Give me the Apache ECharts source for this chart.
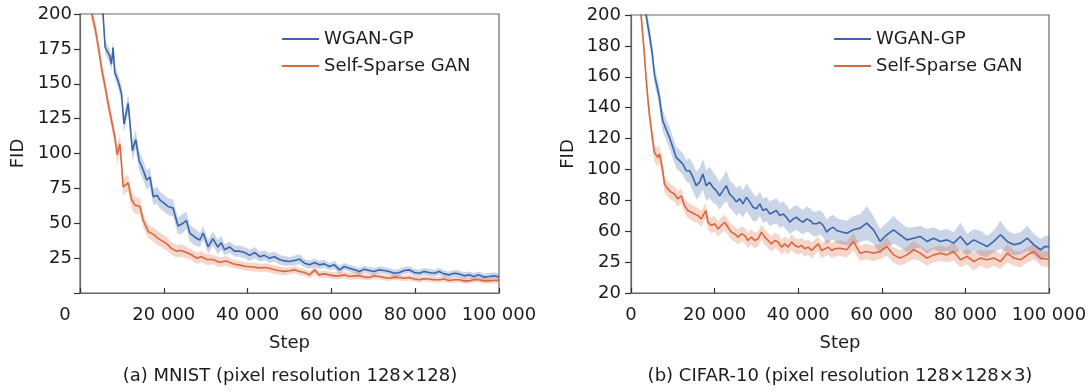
<!DOCTYPE html>
<html>
<head>
<meta charset="utf-8">
<script src="https://cdn.jsdelivr.net/npm/echarts@6/dist/echarts.min.js"></script>
<style>html,body{margin:0;padding:0;background:#fff}#c{width:1091px;height:392px}</style>
</head>
<body>
<div id="c"></div>
<script>
// ---------- DATA (steps in thousands, FID values) ----------
const seriesNames = ['WGAN-GP', 'Self-Sparse GAN'];
const mnistYTickLabels = ['', '25', '50', '75', '100', '125', '150', '175', '200'];
const cifarYTickLabels = ['20', '25', '60', '80', '100', '120', '140', '160', '180', '200'];
const captions = ['(a) MNIST (pixel resolution 128×128)', '(b) CIFAR-10 (pixel resolution 128×128×3)'];

// MNIST
const mnistWganHeadSteps = [3.5,5.5,6.0,7.1,7.5,7.9,8.3,9.1,9.9,10.5,11.5,12.5,13.3,14.1,15.1,15.9,16.7,17.5,18.4,19.0,20.2,21.0,22.2,23.4,24.6,25.4,26.2,27.4,28.6,29.4,30.6,31.7,32.9,33.7,34.5,35.7,36.9,38.1,39.3,40.5,41.7,42.9,44.0,45.2,46.4,47.6,48.8];
const mnistWganHeadFid = [240,200,176,170,164,176,158,152,143,121,136,102,110,95,88,81,83,69,70,67,64,62,61,48,50,52,43,40,38,43,33,39,33,36,31,33,30,30,29,27,29,26,27,25,26,24,23];
const mnistWganHeadSpread = [6,6,5,5,5,6,5,5,6,6,7,7,7,7,7,7,7,6,6,6,6,6,6,6,7,6,6,6,5,5,5,5,5,5,4,4,4,4,4,4,4,3.5,3.5,3.5,3.5,3.5,3.5];
const mnistSspHeadSteps = [1.5,2.8,3.6,4.4,5.2,6.0,6.7,7.5,8.3,8.9,9.5,9.9,10.3,11.5,12.3,13.1,14.3,15.1,16.3,17.5,18.7,19.8,20.8,21.8,23.0,24.2,25.4,26.6,27.8,29.0,30.2,31.7,33.3,34.9,36.5,38.1,39.7,41.3,42.9,44.4,46.0,47.6,48.8];
const mnistSspHeadFid = [240,200,190,176,160,148,136,124,112,99,107,93,76,79,67,63,62,52,44,42,39,37,35,32,30,30.5,29,27.4,25,26,24,24,22,23,21,20,19,18.6,18,18.3,17,16,15.5];
const mnistSspHeadSpread = [6,6,6,6,6,6,6,6,6,7,7,7,6,6,6,6,6,5,5,5,5,5,5,4.5,4.5,4.5,4,4,4,4,4,3.5,3.5,3.5,3,3,3,3,3,3,3,3,3];
const mnistTailSteps = [50,51.2,52.4,53.6,54.8,56.0,57.1,58.3,59.5,60.7,61.9,63.1,64.3,65.5,66.7,67.9,69.0,70.2,71.4,72.6,73.8,75.0,76.2,77.4,78.6,79.8,81.0,82.1,83.3,84.5,85.7,86.9,88.1,89.3,90.5,91.7,92.9,94.0,95.2,96.4,97.6,98.8,100];
const mnistWganTailFid = [22.6,23.3,24.2,21.4,20.2,21.8,20.2,20.9,19,20.2,16.6,19,17.8,16.6,15.4,17.1,16.1,15.4,16.6,16.1,15.4,14.2,14.7,16.1,16.6,14.7,14.2,15.4,14.7,14.2,15.4,13.7,13,14.2,13.7,12.3,13,11.8,13,11.4,11.8,12.3,11.4];
const mnistWganTailSpread = [3,3.5,3.5,3,3,3,3,3,2.5,3,3,2.5,2.5,2.5,2.5,2.5,2.5,2.5,2.5,2.5,2.5,2.5,2.5,2.5,2.5,2.5,2.5,2.5,2.5,2.5,2.5,2.5,2.5,2.5,2.5,2.5,2.5,2.5,2.5,2.5,2.5,2.5,2.5];
const mnistSspTailFid = [15.9,16.6,15.4,14.7,13,16.6,13,13.7,13,12.3,12.3,13,11.8,12.3,12.3,11.4,11.1,12.3,11.8,11.1,10.6,11.4,11.1,10.6,11.1,10,9.5,10.2,10,9.5,9.5,10,9,9.5,9.5,8.7,8.7,9.5,9.5,8.7,8.7,9,9];
const mnistSspTailSpread = [2.5,2.5,2.5,2.5,2.5,3,2.5,2.5,2.5,2.5,2.5,2.5,2.5,2.5,2.5,2,2,2,2,2,2,2,2,2,2,2,2,2,2,2,2,2,2,2,2,2,2,2,2,2,2,2,2];

// CIFAR-10 (values in axis units)
const cifarWganHeadSteps = [2.8,3.6,4.4,5.1,5.6,6.2,6.8,7.2,7.6,8.4,9.2,10.0,10.8,11.6,12.4,13.2,14.0,14.8,15.6,16.4,17.2,18.0,18.8,19.6,20.4,21.2,22.0,22.8,23.6,24.4,25.2,26.0,26.8,27.6,28.4,29.2,30.0,30.8,31.6,32.4,33.2,34.0,34.8,35.6,36.4,37.2,38.0,38.8,39.6,40.4,41.2,42.0,42.8,43.6,44.4,45.2,46.0,46.8,47.6,48.4,49.2];
const cifarWganHeadFid = [230,200,187.5,174.6,161.7,154,146.6,138,131.5,126,120.8,114.3,107.8,105.7,103.5,99.2,99.2,95,89.5,91.7,97,89.5,91.7,88.5,86.3,83,86.3,89.5,84,82,79,81,77.7,82,79,75.5,74.5,77.7,73.4,74.5,71.2,72.3,73.4,70.1,71.2,69,65.8,68,69,67,65.8,68,67,64.8,64.8,65.8,63.7,59.4,61.5,62.6,60.5];
const cifarWganHeadSpread = [6,6,6,6,6,6,7,7,7,7,7,7,7,7,7,7,8,9,9,9,10,10,10,10,9,9,9,10,9,9,9,9,9,9,9,9,8,8,8,8,8,8,8,8,8,8,8,8,8,8,8,8,8,8,8,8,8,8,8,8,8];
const cifarSspHeadSteps = [2.0,2.4,2.8,3.2,3.6,4.0,4.4,4.8,5.2,5.6,6.4,6.8,7.2,7.6,8.0,8.8,9.6,10.4,11.2,12.0,12.8,13.6,14.4,15.2,16.0,16.8,17.9,18.4,19.2,20.0,20.8,21.6,22.4,23.2,24.0,24.8,25.6,26.4,27.2,28.0,28.8,29.6,30.4,31.2,32.0,32.8,33.6,34.4,35.2,36.0,36.8,37.6,38.4,39.2,40.0,40.8,41.6,42.4,43.2,44.0,44.8,45.6,46.4,47.2,48.0,48.8];
const cifarSspHeadFid = [230,200,187.5,174.6,159.5,146.6,135.8,127.2,118.6,111,107.8,110,104.6,99.2,90.6,87.4,85.2,84.1,80.9,83,76.6,73.4,72.3,71.2,70.1,68,73.4,65.8,63.7,64.8,61.5,63.7,65.8,62.6,59.4,58.3,56.2,58.3,57.2,54,56.2,54,55.1,59.4,56.2,54,51.8,54,53,49.7,51.8,49.7,53,50.8,49.7,50.8,48.6,49.7,47.5,49.7,51.8,47.5,48.6,49.7,47.5,48.6];
const cifarSspHeadSpread = [6,6,6,6,6,6,6,6,6,6,6,6,6,6,5,5,5,5,5,5,5,5,5,5,5,5,5,5,5,5,5,5,5,5,5,5,5,5,5,5,5,5,5,5,5,5,5,5,5,5,5,5,5,5,5,5,5,5,5,5,5,5,5,5,5,5];
const cifarTailSteps = [50.0,51.6,53.2,54.8,56.4,58.0,59.6,61.2,62.8,64.4,66.0,67.6,69.2,70.8,72.4,74.0,75.6,77.2,78.8,80.4,82.0,83.6,85.2,86.8,88.4,90.0,91.6,93.2,94.8,96.4,98.0,99.0,100];
const cifarWganTailFid = [59.8,58.7,60.9,62,65.2,60.9,53.4,57.7,60.9,57.7,54.4,55.5,56.6,53.4,55.5,53.4,54.4,52.3,56.6,51.2,54.4,52.3,50.1,53.4,57.7,53.4,51.2,52.3,55.5,51.2,48,50.1,50];
const cifarWganTailSpread = [8,8,9,9,11,9,8,8,9,8,8,7,7,8,7,7,7,7,9,7,7,8,7,7,9,7,7,7,8,7,7,7,7];
const cifarSspTailFid = [49,48,53.4,45.8,46.9,45.8,46.9,50.1,44.7,42.6,44.7,48,45.8,42.6,44.7,45.8,44.7,46.9,41.5,43.7,40.4,42.6,41.5,42.6,40.4,45.8,42.6,41.5,44.7,46.9,42.6,42,42];
const cifarSspTailSpread = [5,5,6,5,5,5,5,6,5,5,5,6,5,5,5,5,5,6,5,5,6,5,6,5,5,6,5,5,5,5,5,5,5];

// ---------- CHART ----------
const FONT = "'DejaVu Sans', 'Liberation Sans', Arial, sans-serif";
const TXT = '#1c1c1c';
const BLUE = '#3b65aa', ORANGE = '#d9683f';
const FRAME = '#666';

function bandSeries(name, steps, mean, spread, color, gi) {
  const lower = steps.map((s, i) => [s, mean[i] - spread[i]]);
  const upper = steps.map((s, i) => [s, mean[i] + spread[i]]);
  return [
    { type: 'custom', xAxisIndex: gi, yAxisIndex: gi, silent: true, clip: true, z: 1,
      data: [[steps[0], mean[0]]],
      renderItem: function (params, api) {
        const pts = [];
        for (let i = 0; i < upper.length; i++) pts.push(api.coord(upper[i]));
        for (let i = lower.length - 1; i >= 0; i--) pts.push(api.coord(lower[i]));
        const cs = params.coordSys;
        return {
          type: 'polygon',
          shape: { points: pts },
          style: { fill: color, opacity: 0.27 },
          clipPath: { type: 'rect', shape: { x: cs.x, y: cs.y, width: cs.width, height: cs.height } }
        };
      } },
    { type: 'line', name: name, xAxisIndex: gi, yAxisIndex: gi,
      data: steps.map((s, i) => [s, mean[i]]), symbol: 'none',
      lineStyle: { color: color, width: 1.6 }, itemStyle: { color: color }, z: 3 }
  ];
}

const series = [].concat(
  bandSeries(seriesNames[0], mnistWganHeadSteps.concat(mnistTailSteps), mnistWganHeadFid.concat(mnistWganTailFid), mnistWganHeadSpread.concat(mnistWganTailSpread), BLUE, 0),
  bandSeries(seriesNames[1], mnistSspHeadSteps.concat(mnistTailSteps), mnistSspHeadFid.concat(mnistSspTailFid), mnistSspHeadSpread.concat(mnistSspTailSpread), ORANGE, 0),
  bandSeries(seriesNames[0], cifarWganHeadSteps.concat(cifarTailSteps), cifarWganHeadFid.concat(cifarWganTailFid), cifarWganHeadSpread.concat(cifarWganTailSpread), BLUE, 1),
  bandSeries(seriesNames[1], cifarSspHeadSteps.concat(cifarTailSteps), cifarSspHeadFid.concat(cifarSspTailFid), cifarSspHeadSpread.concat(cifarSspTailSpread), ORANGE, 1)
);

const txt = { fontSize: 18, color: TXT, fontFamily: FONT };
function fmtStep(v) { return v === 0 ? '0' : v + ' 000'; }

function xAxis(gi, shiftZero) {
  return {
    type: 'value', gridIndex: gi, min: 0, max: 100, interval: 20,
    axisLine: { lineStyle: { color: FRAME, width: 1.2 } },
    axisTick: { inside: true, length: 5, lineStyle: { color: '#333', width: 1.2 } },
    splitLine: { show: false },
    axisLabel: Object.assign({}, txt, {
      margin: 13,
      formatter: v => (v === 0 && shiftZero) ? '{z|0}' : fmtStep(v),
      rich: { z: Object.assign({}, txt, { padding: [0, 30, 0, 0] }) }
    }),
    name: 'Step', nameLocation: 'middle', nameGap: 41, nameTextStyle: txt
  };
}

const option = {
  animation: false,
  backgroundColor: '#fff',
  textStyle: { fontFamily: FONT },
  grid: [
    { left: 80, top: 14, width: 419, height: 279, show: true, borderColor: FRAME, borderWidth: 1.2, backgroundColor: 'transparent' },
    { left: 631, top: 15, width: 418, height: 278, show: true, borderColor: FRAME, borderWidth: 1.2, backgroundColor: 'transparent' }
  ],
  xAxis: [xAxis(0, true), xAxis(1, false)],
  yAxis: [
    { type: 'value', gridIndex: 0, min: 0, max: 200, interval: 25,
      axisLine: { show: true, lineStyle: { color: FRAME, width: 1.2 } },
      axisTick: { show: true, length: 6, lineStyle: { color: '#333', width: 1.2 } },
      splitLine: { show: false },
      axisLabel: Object.assign({}, txt, { margin: 8, formatter: v => mnistYTickLabels[Math.round(v / 25)] }),
      name: 'FID', nameLocation: 'middle', nameGap: 53, nameTextStyle: txt },
    { type: 'value', gridIndex: 1, min: 20, max: 200, interval: 20,
      axisLine: { show: true, lineStyle: { color: FRAME, width: 1.2 } },
      axisTick: { show: true, length: 6, lineStyle: { color: '#333', width: 1.2 } },
      splitLine: { show: false },
      axisLabel: Object.assign({}, txt, { margin: 10, formatter: v => cifarYTickLabels[Math.round((v - 20) / 20)] }),
      name: 'FID', nameLocation: 'middle', nameGap: 54, nameTextStyle: txt }
  ],
  legend: [
    { orient: 'vertical', left: 277, top: 24, itemWidth: 37, itemHeight: 2, icon: 'rect', itemGap: 7,
      data: seriesNames, textStyle: Object.assign({}, txt, { lineHeight: 20 }), selectedMode: false },
    { orient: 'vertical', left: 829, top: 24, itemWidth: 37, itemHeight: 2, icon: 'rect', itemGap: 7,
      data: seriesNames, textStyle: Object.assign({}, txt, { lineHeight: 20 }), selectedMode: false }
  ],
  graphic: [
    { type: 'text', x: 290, y: 376, style: { text: captions[0], fill: TXT, font: '18px ' + FONT, textAlign: 'center', textVerticalAlign: 'middle', align: 'center', verticalAlign: 'middle' } },
    { type: 'text', x: 840, y: 376, style: { text: captions[1], fill: TXT, font: '18px ' + FONT, textAlign: 'center', textVerticalAlign: 'middle', align: 'center', verticalAlign: 'middle' } }
  ],
  series: series
};

const chart = echarts.init(document.getElementById('c'), null, { renderer: 'canvas' });
chart.setOption(option);
</script>
</body>
</html>
